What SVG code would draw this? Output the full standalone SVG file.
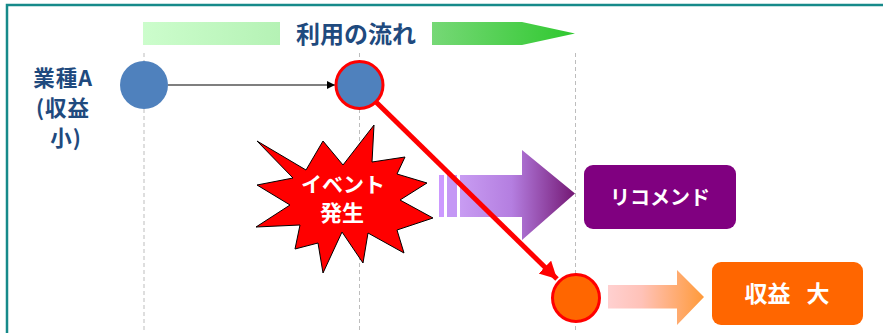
<svg xmlns="http://www.w3.org/2000/svg" width="883" height="333" viewBox="0 0 883 333">
  <defs>
    <linearGradient id="gBar" x1="0" y1="0" x2="1" y2="0">
      <stop offset="0" stop-color="#ccfdcc"/>
      <stop offset="1" stop-color="#b5f2b5"/>
    </linearGradient>
    <linearGradient id="gArrowGreen" x1="0" y1="0" x2="1" y2="0">
      <stop offset="0" stop-color="#76d876"/>
      <stop offset="1" stop-color="#2fc82f"/>
    </linearGradient>
    <linearGradient id="gPurple" gradientUnits="userSpaceOnUse" x1="460" y1="0" x2="575" y2="0">
      <stop offset="0" stop-color="#c89cf2"/>
      <stop offset="0.45" stop-color="#b47ee0"/>
      <stop offset="1" stop-color="#741874"/>
    </linearGradient>
    <linearGradient id="gOrange" gradientUnits="userSpaceOnUse" x1="608" y1="0" x2="704" y2="0">
      <stop offset="0" stop-color="#ffd0d0"/>
      <stop offset="0.35" stop-color="#ffc2b8"/>
      <stop offset="1" stop-color="#ff9a3a"/>
    </linearGradient>
    <marker id="mBlack" markerUnits="userSpaceOnUse" markerWidth="9" markerHeight="9" refX="8" refY="4" orient="auto">
      <path d="M0,0 L8,4 L0,8 Z" fill="#000"/>
    </marker>
    <marker id="mRed" markerUnits="userSpaceOnUse" markerWidth="18" markerHeight="19" refX="17" refY="9" orient="auto">
      <path d="M0,0 L17,9 L0,18 Z" fill="#ff0000"/>
    </marker>
  </defs>
  <style>
    .jp { font-family: "Noto Sans CJK JP", "Noto Sans CJK SC", sans-serif; font-weight: 700; }
    .navy { fill: #1f4a7e; }
    .white { fill: #ffffff; }
    .grid { stroke: #bdbdbd; stroke-width: 1; stroke-dasharray: 4 3; fill: none; }
  </style>

  <rect x="0" y="0" width="883" height="333" fill="#ffffff"/>
  <rect id="frame" x="7" y="5" width="900" height="360" fill="none" stroke="#168a8a" stroke-width="2.5"/>

  <g id="gridlines">
    <line class="grid" x1="144" y1="53" x2="144" y2="333"/>
    <line class="grid" x1="359.5" y1="53" x2="359.5" y2="333"/>
    <line class="grid" x1="575.5" y1="53" x2="575.5" y2="333"/>
  </g>

  <g id="flow-header">
    <rect x="143" y="22" width="137" height="23" fill="url(#gBar)"/>
    <text class="jp navy" x="356" y="42.5" font-size="24" text-anchor="middle">利用の流れ</text>
    <polygon points="432,22 522,22 575,33.5 522,45 432,45" fill="url(#gArrowGreen)"/>
  </g>

  <g id="label-industry">
    <text class="jp navy" font-size="21.5" text-anchor="middle" letter-spacing="1">
      <tspan x="66" y="86">業種A</tspan>
      <tspan x="66" y="116">(収益</tspan>
      <tspan x="66" y="146">小)</tspan>
    </text>
  </g>

  <g id="node-event">
    <polygon points="257,141 306,170 323,141 343,165 374,125 372,162 405,157 397,174 427,183 400,200 433,218 397,230 404,253 368,233 363,263 342,232 323,273 318,243 295,249 300,225 256,227 290,205 257,185 293,178" fill="#ff0000" stroke="#000" stroke-width="1"/>
    <text class="jp white" x="343" y="192" font-size="21" text-anchor="middle">イベント</text>
    <text class="jp white" x="342" y="221" font-size="22" text-anchor="middle">発生</text>
  </g>

  <g id="arrow-recommend">
    <rect x="439" y="175" width="5" height="42" fill="#cc99ff"/>
    <rect x="447" y="175" width="10" height="42" fill="#c497f5"/>
    <polygon points="460,175 522,175 522,150 575,193.5 522,240 522,217 460,217" fill="url(#gPurple)"/>
  </g>

  <g id="arrow-profit">
    <polygon points="608,285 677,285 677,270 704,297 677,325 677,308.5 608,308.5" fill="url(#gOrange)"/>
  </g>

  <g id="connectors">
    <line x1="168" y1="85" x2="335" y2="85" stroke="#000" stroke-width="1.2" marker-end="url(#mBlack)"/>
    <line x1="376" y1="102" x2="557" y2="279" stroke="#ff0000" stroke-width="5" marker-end="url(#mRed)"/>
  </g>

  <g id="node-start">
    <circle cx="144" cy="85" r="24" fill="#4f81bd"/>
  </g>

  <g id="node-mid">
    <circle cx="359.5" cy="85" r="23.5" fill="#4f81bd" stroke="#ff0000" stroke-width="3"/>
  </g>

  <g id="node-recommend">
    <rect x="584" y="165" width="152" height="64" rx="9" fill="#800080"/>
    <text class="jp white" x="660" y="205" font-size="20" text-anchor="middle">リコメンド</text>
  </g>

  <g id="node-end">
    <circle cx="576" cy="298" r="23.5" fill="#ff6600" stroke="#ff0000" stroke-width="3"/>
  </g>

  <g id="node-profit">
    <rect x="712" y="262" width="151" height="63" rx="9" fill="#ff6600"/>
    <text class="jp white" x="787" y="302" font-size="23" text-anchor="middle" word-spacing="11">収益 大</text>
  </g>
</svg>
